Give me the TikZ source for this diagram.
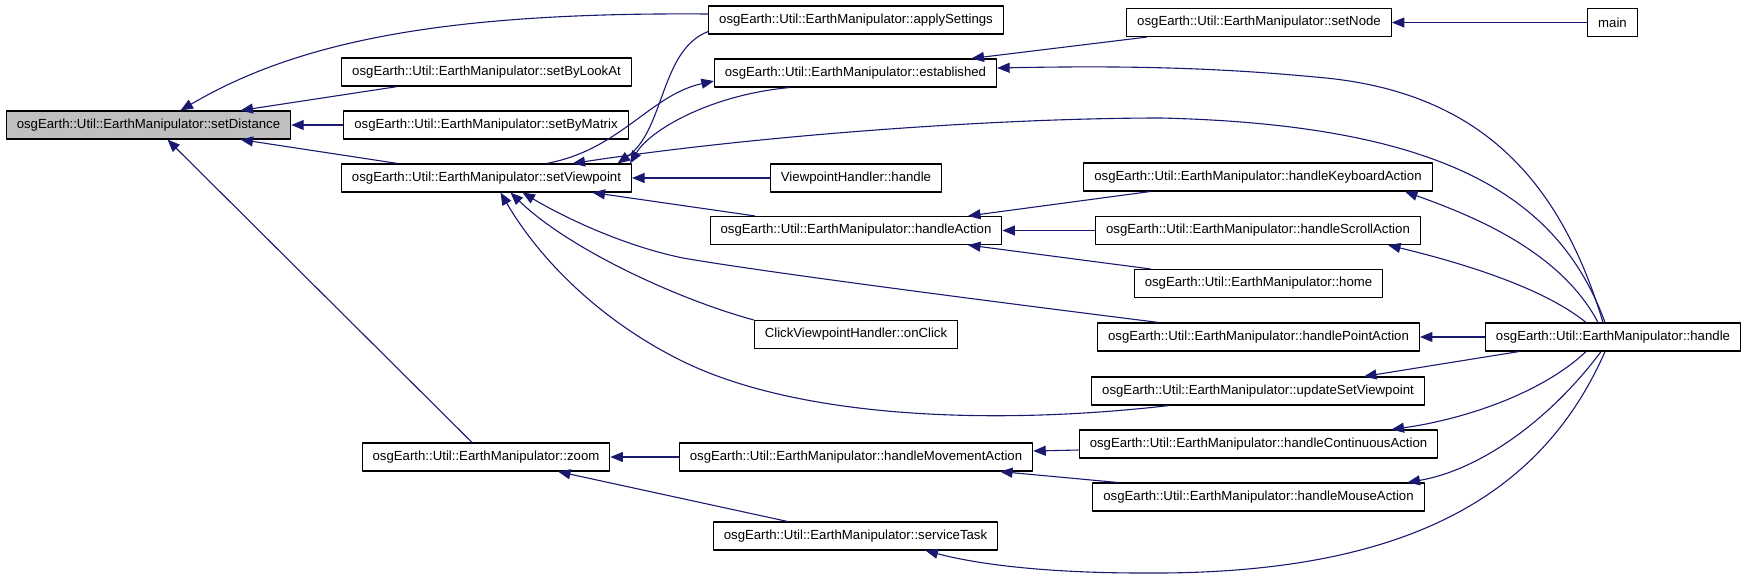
\documentclass[tikz,border=0pt]{standalone}
\usepackage{fontspec}
\setmainfont{Liberation Sans}
\usetikzlibrary{arrows.meta}
\definecolor{edgeblue}{RGB}{25,25,112}
\definecolor{focusgray}{RGB}{191,191,191}
\begin{document}
\begin{tikzpicture}[x=1pt, y=-1pt, font=\fontsize{13.2}{16}\selectfont, line join=round, >={Triangle[length=12.5pt,width=10pt]},
	fn/.style={draw, line width=1.1pt, inner xsep=10.5pt, inner ysep=0pt, minimum height=28pt, fill=white},
	call/.style={->, edgeblue, line width=1.1pt}]
	\useasboundingbox (0,0) rectangle (1747,579);
	\node[fn, fill=focusgray] (sd) at (148.5,125) {osgEarth::Util::EarthManipulator::setDistance};
	\node[fn] (sbla) at (486.5,72) {osgEarth::Util::EarthManipulator::setByLookAt};
	\node[fn] (sbm) at (486,125) {osgEarth::Util::EarthManipulator::setByMatrix};
	\node[fn] (svp) at (486.5,178) {osgEarth::Util::EarthManipulator::setViewpoint};
	\node[fn] (zoom) at (486,457) {osgEarth::Util::EarthManipulator::zoom};
	\node[fn] (aps) at (856,20) {osgEarth::Util::EarthManipulator::applySettings};
	\node[fn] (est) at (855.5,73) {osgEarth::Util::EarthManipulator::established};
	\node[fn] (vph) at (856,178) {ViewpointHandler::handle};
	\node[fn] (ha) at (856,230.5) {osgEarth::Util::EarthManipulator::handleAction};
	\node[fn] (cvh) at (856,334.5) {ClickViewpointHandler::onClick};
	\node[fn] (hma) at (856,457) {osgEarth::Util::EarthManipulator::handleMovementAction};
	\node[fn] (st) at (855.5,536) {osgEarth::Util::EarthManipulator::serviceTask};
	\node[fn] (sn) at (1259,22.5) {osgEarth::Util::EarthManipulator::setNode};
	\node[fn] (hka) at (1258,177) {osgEarth::Util::EarthManipulator::handleKeyboardAction};
	\node[fn] (hsa) at (1258,230.5) {osgEarth::Util::EarthManipulator::handleScrollAction};
	\node[fn] (home) at (1258.5,283.5) {osgEarth::Util::EarthManipulator::home};
	\node[fn] (hpa) at (1258.5,337) {osgEarth::Util::EarthManipulator::handlePointAction};
	\node[fn] (usv) at (1258,391) {osgEarth::Util::EarthManipulator::updateSetViewpoint};
	\node[fn] (hca) at (1258.5,444) {osgEarth::Util::EarthManipulator::handleContinuousAction};
	\node[fn] (hmsa) at (1258.5,497) {osgEarth::Util::EarthManipulator::handleMouseAction};
	\node[fn] (main) at (1612.5,22.5) {main};
	\node[fn] (hdl) at (1613,337) {osgEarth::Util::EarthManipulator::handle};
	\draw[call] ([yshift=6pt]aps.west) .. controls (450,12) and (300,40) .. ([xshift=32pt]sd.north);
	\draw[call] ([xshift=-89pt]sbla.south) -- ([xshift=92pt]sd.north);
	\draw[call] (sbm.west) -- (sd.east);
	\draw[call] ([xshift=-89pt]svp.north) -- ([xshift=92pt]sd.south);
	\draw[call] ([xshift=-14pt]zoom.north) -- ([xshift=19pt]sd.south);
	\draw[call] ([yshift=3pt]aps.south west) .. controls (660,50) and (665,130) .. ([xshift=131pt]svp.north);
	\draw[call] ([xshift=-66pt]est.south) .. controls (710,95) and (650,130) .. ([xshift=-2pt]svp.north east);
	\draw[call] ([xshift=60pt]svp.north) .. controls (620,150) and (650,95) .. ([yshift=-8pt]est.west);
	\draw[call] ([xshift=-8pt]hdl.north) .. controls (1560,200) and (1450,125) .. (1161,118) .. controls (1000,118) and (760,135) .. ([xshift=86pt]svp.north);
	\draw[call] ([xshift=-10pt]hdl.north) .. controls (1560,180) and (1480,90) .. (1315,77) .. controls (1200,66) and (1100,66) .. ([yshift=5pt]est.east);
	\draw[call] ([xshift=-112pt]sn.south) -- ([xshift=116pt]est.north);
	\draw[call] (main.west) -- (sn.east);
	\draw[call] (vph.west) -- (svp.east);
	\draw[call] ([xshift=-101pt]ha.north) -- ([xshift=106pt]svp.south);
	\draw[call] ([xshift=-100pt]hpa.north) .. controls (900,290) and (740,268) .. (683,258) .. controls (620,245) and (560,215) .. ([xshift=36pt]svp.south);
	\draw[call] (cvh.north west) .. controls (680,300) and (570,250) .. ([xshift=24pt]svp.south);
	\draw[call] ([xshift=-89pt]usv.south) .. controls (1000,425) and (800,420) .. (680,360) .. controls (600,320) and (540,260) .. ([xshift=14pt]svp.south);
	\draw[call] ([xshift=-108pt]hka.south) -- ([xshift=112pt]ha.north);
	\draw[call] (hsa.west) -- (ha.east);
	\draw[call] ([xshift=-108pt]home.north) -- ([xshift=112pt]ha.south);
	\draw[call] ([xshift=-15pt]hdl.north) .. controls (1560,250) and (1470,215) .. ([xshift=147pt]hka.south);
	\draw[call] ([xshift=-27pt]hdl.north) .. controls (1540,285) and (1450,260) .. ([xshift=130pt]hsa.south);
	\draw[call] (hdl.west) -- (hpa.east);
	\draw[call] ([xshift=-94pt]hdl.south) -- ([xshift=106pt]usv.north);
	\draw[call] ([xshift=-27pt]hdl.south) .. controls (1540,395) and (1460,420) .. ([xshift=133pt]hca.north);
	\draw[call] ([xshift=-12pt]hdl.south) .. controls (1550,420) and (1480,470) .. ([xshift=149pt]hmsa.north);
	\draw[call] ([xshift=-8pt]hdl.south) .. controls (1540,500) and (1400,575) .. (1143,573) .. controls (1050,573) and (980,565) .. ([xshift=70pt]st.south);
	\draw[call] ([yshift=-6pt]hca.west) -- ([yshift=6pt]hma.east);
	\draw[call] ([xshift=-141pt]hmsa.north) -- ([xshift=144pt]hma.south);
	\draw[call] (hma.west) -- (zoom.east);
	\draw[call] ([xshift=-68pt]st.north) -- ([xshift=72pt]zoom.south);
\end{tikzpicture}
\end{document}
